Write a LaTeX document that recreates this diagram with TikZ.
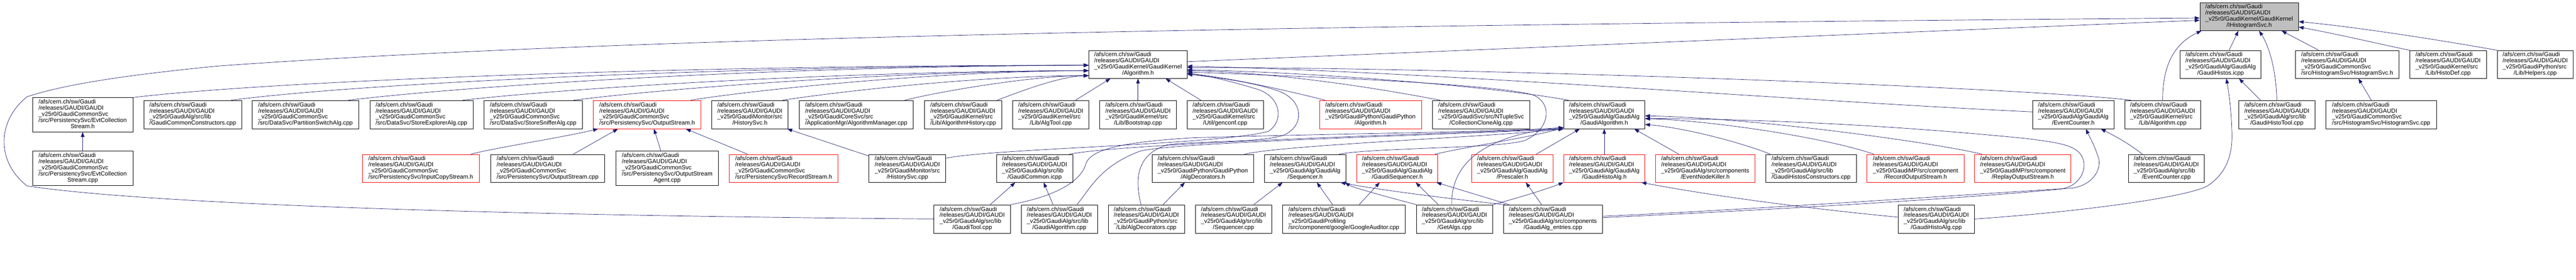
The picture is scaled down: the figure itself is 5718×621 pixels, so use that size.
\documentclass[tikz,border=0pt]{standalone}
\usepackage{fontspec}
\setmainfont{Liberation Sans}
\usetikzlibrary{arrows.meta}
\definecolor{eblue}{RGB}{25,25,112}
\definecolor{gfill}{RGB}{191,191,191}
\definecolor{rb}{RGB}{255,0,0}
\newcommand{\lbl}[2]{\begin{tabular}{@{}l@{}}/afs/cern.ch/sw/Gaudi\\/releases/GAUDI/GAUDI\\#1\\\multicolumn{1}{@{}c@{}}{#2}\end{tabular}}
\newcommand{\nd}[8]{\node[#6,minimum width={#3-#2},minimum height={#5-#4}] (#1) at ({(#2+#3)/2},{(#4+#5)/2}) {\lbl{#7}{#8}};}
\tikzset{
  nb/.style={draw=black,line width=0.8pt,inner sep=0pt,rectangle},
  nr/.style={draw=rb,line width=0.8pt,inner sep=0pt,rectangle},
  ntop/.style={draw=black,fill=gfill,line width=0.8pt,inner sep=0pt,rectangle},
  e/.style={draw=eblue,line width=0.8pt,-{Triangle[length=11pt,width=8pt]}}
}
\begin{document}
\begin{tikzpicture}[x=1pt,y=-1pt,font=\fontsize{13.2}{13.4}\selectfont]
\useasboundingbox (0,0) rectangle (5718,621);
% row A
\nd{top}{4883}{5102}{6}{68}{ntop}{\_v25r0/GaudiKernel/GaudiKernel}{/IHistogramSvc.h}
% row B
\nd{algh}{2417}{2635}{112}{174}{nb}{\_v25r0/GaudiKernel/GaudiKernel}{/Algorithm.h}
\nd{histosicpp}{4839}{5019}{112}{174}{nb}{\_v25r0/GaudiAlg/GaudiAlg}{/GaudiHistos.icpp}
\nd{histsvch}{5095}{5325}{112}{174}{nb}{\_v25r0/GaudiCommonSvc}{/src/HistogramSvc/HistogramSvc.h}
\nd{histodef}{5349}{5519}{112}{174}{nb}{\_v25r0/GaudiKernel/src}{/Lib/HistoDef.cpp}
\nd{helpers}{5543}{5712}{112}{174}{nb}{\_v25r0/GaudiPython/src}{/Lib/Helpers.cpp}
% row C
\nd{evth}{72}{295}{217}{293}{nb}{\_v25r0/GaudiCommonSvc\\/src/PersistencySvc/EvtCollection}{Stream.h}
\nd{gcc}{319}{537}{223}{286}{nb}{\_v25r0/GaudiAlg/src/lib}{/GaudiCommonConstructors.cpp}
\nd{psa}{560}{796}{223}{286}{nb}{\_v25r0/GaudiCommonSvc}{/src/DataSvc/PartitionSwitchAlg.cpp}
\nd{sea}{821}{1050}{223}{286}{nb}{\_v25r0/GaudiCommonSvc}{/src/DataSvc/StoreExplorerAlg.cpp}
\nd{ssa}{1074}{1293}{223}{286}{nb}{\_v25r0/GaudiCommonSvc}{/src/DataSvc/StoreSnifferAlg.cpp}
\nd{osh}{1317}{1556}{223}{286}{nr}{\_v25r0/GaudiCommonSvc}{/src/PersistencySvc/OutputStream.h}
\nd{hsh}{1580}{1749}{223}{286}{nb}{\_v25r0/GaudiMonitor/src}{/HistorySvc.h}
\nd{amc}{1774}{2027}{223}{286}{nb}{\_v25r0/GaudiCoreSvc/src}{/ApplicationMgr/AlgorithmManager.cpp}
\nd{ahc}{2052}{2224}{223}{286}{nb}{\_v25r0/GaudiKernel/src}{/Lib/AlgorithmHistory.cpp}
\nd{atc}{2248}{2417}{223}{286}{nb}{\_v25r0/GaudiKernel/src}{/Lib/AlgTool.cpp}
\nd{bsc}{2441}{2611}{223}{286}{nb}{\_v25r0/GaudiKernel/src}{/Lib/Bootstrap.cpp}
\nd{gcf}{2635}{2804}{223}{286}{nb}{\_v25r0/GaudiKernel/src}{/Util/genconf.cpp}
\nd{gpah}{2929}{3155}{223}{286}{nr}{\_v25r0/GaudiPython/GaudiPython}{/Algorithm.h}
\nd{cca}{3179}{3396}{223}{286}{nb}{\_v25r0/GaudiSvc/src/NTupleSvc}{/CollectionCloneAlg.cpp}
\nd{gah}{3471}{3651}{223}{286}{nb}{\_v25r0/GaudiAlg/GaudiAlg}{/GaudiAlgorithm.h}
\nd{ech}{4512}{4692}{223}{286}{nb}{\_v25r0/GaudiAlg/GaudiAlg}{/EventCounter.h}
\nd{algcpp}{4716}{4885}{223}{286}{nb}{\_v25r0/GaudiKernel/src}{/Lib/Algorithm.cpp}
\nd{ghtc}{4969}{5139}{223}{286}{nb}{\_v25r0/GaudiAlg/src/lib}{/GaudiHistoTool.cpp}
\nd{hsc}{5163}{5408}{223}{286}{nb}{\_v25r0/GaudiCommonSvc}{/src/HistogramSvc/HistogramSvc.cpp}
% row D
\nd{evtcpp}{72}{295}{336}{412}{nb}{\_v25r0/GaudiCommonSvc\\/src/PersistencySvc/EvtCollection}{Stream.cpp}
\nd{icsh}{804}{1064}{343}{405}{nr}{\_v25r0/GaudiCommonSvc}{/src/PersistencySvc/InputCopyStream.h}
\nd{oscpp}{1089}{1342}{343}{405}{nb}{\_v25r0/GaudiCommonSvc}{/src/PersistencySvc/OutputStream.cpp}
\nd{osac}{1367}{1595}{336}{412}{nb}{\_v25r0/GaudiCommonSvc\\/src/PersistencySvc/OutputStream}{Agent.cpp}
\nd{rsh}{1619}{1860}{343}{405}{nr}{\_v25r0/GaudiCommonSvc}{/src/PersistencySvc/RecordStream.h}
\nd{hsvcpp}{1929}{2099}{343}{405}{nb}{\_v25r0/GaudiMonitor/src}{/HistorySvc.cpp}
\nd{gcicpp}{2212}{2381}{343}{405}{nb}{\_v25r0/GaudiAlg/src/lib}{/GaudiCommon.icpp}
\nd{adh}{2557}{2783}{343}{405}{nb}{\_v25r0/GaudiPython/GaudiPython}{/AlgDecorators.h}
\nd{seqh}{2807}{2987}{343}{405}{nb}{\_v25r0/GaudiAlg/GaudiAlg}{/Sequencer.h}
\nd{gseqh}{3012}{3191}{343}{405}{nr}{\_v25r0/GaudiAlg/GaudiAlg}{/GaudiSequencer.h}
\nd{presh}{3267}{3447}{343}{405}{nr}{\_v25r0/GaudiAlg/GaudiAlg}{/Prescaler.h}
\nd{ghah}{3471}{3651}{343}{405}{nr}{\_v25r0/GaudiAlg/GaudiAlg}{/GaudiHistoAlg.h}
\nd{enkh}{3675}{3895}{343}{405}{nr}{\_v25r0/GaudiAlg/src/components}{/EventNodeKiller.h}
\nd{ghcc}{3919}{4121}{343}{405}{nb}{\_v25r0/GaudiAlg/src/lib}{/GaudiHistosConstructors.cpp}
\nd{rosh}{4144}{4360}{343}{405}{nr}{\_v25r0/GaudiMP/src/component}{/RecordOutputStream.h}
\nd{rplh}{4383}{4597}{343}{405}{nr}{\_v25r0/GaudiMP/src/component}{/ReplayOutputStream.h}
\nd{eccpp}{4724}{4893}{343}{405}{nb}{\_v25r0/GaudiAlg/src/lib}{/EventCounter.cpp}
% row E
\nd{gtc}{2073}{2243}{455}{518}{nb}{\_v25r0/GaudiAlg/src/lib}{/GaudiTool.cpp}
\nd{gacpp}{2267}{2436}{455}{518}{nb}{\_v25r0/GaudiAlg/src/lib}{/GaudiAlgorithm.cpp}
\nd{adc}{2460}{2629}{455}{518}{nb}{\_v25r0/GaudiPython/src}{/Lib/AlgDecorators.cpp}
\nd{seqc}{2653}{2823}{455}{518}{nb}{\_v25r0/GaudiAlg/src/lib}{/Sequencer.cpp}
\nd{goog}{2847}{3119}{455}{518}{nb}{\_v25r0/GaudiProfiling}{/src/component/google/GoogleAuditor.cpp}
\nd{getalgs}{3144}{3313}{455}{518}{nb}{\_v25r0/GaudiAlg/src/lib}{/GetAlgs.cpp}
\nd{entries}{3337}{3557}{455}{518}{nb}{\_v25r0/GaudiAlg/src/components}{/GaudiAlg\_entries.cpp}
\nd{ghacpp}{4213}{4383}{455}{518}{nb}{\_v25r0/GaudiAlg/src/lib}{/GaudiHistoAlg.cpp}
% ---- edges into IHistogramSvc.h
\draw[e] ([yshift=6pt]algh.east) -- ([yshift=-8pt]top.west);
\draw[e] (gtc.west) .. controls (1000,478) and (300,450) .. (60,413) .. controls (-8,360) and (-8,270) .. (60,215) .. controls (150,185) and (300,165) .. (480,147) .. controls (1400,80) and (3000,55) .. ([yshift=-3pt]top.west);
\draw[e] ([xshift=19pt]histosicpp.north) -- ([xshift=-24pt]top.south);
\draw[e] (algcpp.north) .. controls (4800,140) and (4830,95) .. ([xshift=4pt]top.south west);
\draw[e] (ghtc.north) .. controls (5052,150) and (5035,100) .. ([xshift=22pt]top.south);
\draw[e] ([xshift=-63pt]histsvch.north) -- ([xshift=72pt]top.south);
\draw[e] (histodef.north west) .. controls (5300,102) and (5200,78) .. ([yshift=-23pt]top.east);
\draw[e] (helpers.north west) .. controls (5450,95) and (5250,62) .. ([yshift=-11pt]top.east);
% ---- histogram side
\draw[e] ([xshift=-22pt]hsc.north) -- ([xshift=25pt]histsvch.south);
\draw[e] ([xshift=-36pt]ghtc.north) .. controls (5000,205) and (4985,190) .. ([xshift=41pt]histosicpp.south);
\draw[e] (ghacpp.east) .. controls (4600,472) and (4850,440) .. (4900,413) .. controls (4950,380) and (4956,330) .. (4954,290) .. controls (4952,230) and (4946,200) .. ([xshift=13pt]histosicpp.south);
% ---- into Algorithm.h from the left
\draw[e] (evth.north east) .. controls (600,180) and (1500,145) .. ([yshift=-2pt]algh.west);
\draw[e] ([xshift=-24pt]gcc.north east) .. controls (800,185) and (1600,147) .. ([yshift=-2pt]algh.west);
\draw[e] ([xshift=-23pt]psa.north east) .. controls (1050,190) and (1700,148) .. ([yshift=-2pt]algh.west);
\draw[e] ([xshift=-23pt]sea.north east) .. controls (1300,192) and (1900,158) .. ([yshift=-14pt]algh.west);
\draw[e] ([xshift=-20pt]ssa.north east) .. controls (1500,194) and (2000,158) .. ([yshift=-14pt]algh.west);
\draw[e] ([xshift=-23pt]osh.north east) .. controls (1700,196) and (2100,158) .. ([yshift=-14pt]algh.west);
\draw[e] ([xshift=-12pt]hsh.north east) .. controls (1900,198) and (2200,168) .. ([yshift=-25pt]algh.west);
\draw[e] ([xshift=-19pt]amc.north east) .. controls (2100,200) and (2300,168) .. ([yshift=-25pt]algh.west);
\draw[e] ([xshift=-11pt]ahc.north east) .. controls (2260,205) and (2350,170) .. ([yshift=-25pt]algh.west);
% ---- into Algorithm.h from below / right
\draw[e] ([xshift=-30pt]atc.north east) -- ([xshift=-61pt]algh.south);
\draw[e] (bsc.north) -- (algh.south);
\draw[e] ([xshift=-54pt]gcf.north) -- ([xshift=61pt]algh.south);
\draw[e] ([xshift=13pt]gpah.north west) .. controls (2900,212) and (2750,175) .. ([yshift=-20pt]algh.east);
\draw[e] ([xshift=18pt]cca.north west) .. controls (3000,185) and (2800,160) .. ([yshift=-14pt]algh.east);
\draw[e] ([xshift=11pt]gah.north west) .. controls (3300,190) and (2900,160) .. ([yshift=-12pt]algh.east);
\draw[e] ([xshift=14pt]algcpp.north west) .. controls (4500,195) and (3300,150) .. ([yshift=-7pt]algh.east);
\draw[e] ([yshift=6pt]ech.west) .. controls (4000,225) and (3200,160) .. ([yshift=-4pt]algh.east);
\draw[e] ([yshift=-9pt]hsvcpp.north east) .. controls (2200,330) and (2700,322) .. (2815,292) .. controls (2850,270) and (2845,215) .. (2790,198) .. controls (2730,180) and (2690,170) .. ([yshift=-20pt]algh.east);
\draw[e] ([xshift=-12pt]adc.north) .. controls (2520,400) and (2520,345) .. (2590,322) .. controls (2660,312) and (2800,318) .. (2850,300) .. controls (2895,280) and (2895,225) .. (2840,203) .. controls (2780,182) and (2700,172) .. ([yshift=-22pt]algh.east);
\draw[e] ([xshift=-15pt]seqh.north east) .. controls (3050,328) and (3330,330) .. (3385,312) .. controls (3445,285) and (3445,225) .. (3400,210) .. controls (3300,185) and (2900,170) .. ([yshift=-17pt]algh.east);
% ---- persistency
\draw[e] (evtcpp.north) -- (evth.south);
\draw[e] ([xshift=-19pt]icsh.north east) .. controls (1090,330) and (1250,305) .. ([xshift=11pt]osh.south west);
\draw[e] ([xshift=57pt]oscpp.north) -- ([xshift=55pt]osh.south west);
\draw[e] ([xshift=-14pt]osac.north) -- ([xshift=135pt]osh.south west);
\draw[e] ([xshift=-80pt]rsh.north) -- ([xshift=-34pt]osh.south east);
\draw[e] ([yshift=-4pt]hsvcpp.north west) -- ([xshift=-2pt]hsh.south east);
% ---- row E to row D
\draw[e] ([xshift=40pt]gtc.north) -- ([xshift=-43pt]gcicpp.south);
\draw[e] ([xshift=-14pt]gacpp.north) -- ([xshift=20pt]gcicpp.south);
\draw[e] ([xshift=37pt]adc.north) -- ([xshift=-40pt]adh.south);
\draw[e] ([xshift=45pt]seqc.north) -- ([xshift=-50pt]seqh.south);
\draw[e] ([xshift=-25pt]goog.north) -- ([xshift=26pt]seqh.south);
\draw[e] ([xshift=34pt]goog.north) -- ([xshift=-39pt]gseqh.south);
\draw[e] (getalgs.north west) .. controls (3050,430) and (3000,415) .. ([xshift=-2pt]seqh.south east);
\draw[e] ([xshift=-36pt]getalgs.north) -- ([xshift=41pt]gseqh.south);
\draw[e] ([xshift=4pt]entries.north west) .. controls (3200,440) and (3050,420) .. ([xshift=-12pt]seqh.south east);
\draw[e] ([xshift=13pt]entries.north west) -- ([xshift=-3pt]gseqh.south east);
\draw[e] ([xshift=-25pt]entries.north) -- ([xshift=30pt]presh.south);
\draw[e] (getalgs.north east) .. controls (3340,448) and (3420,425) .. (ghah.south west);
\draw[e] ([yshift=4pt]ghacpp.west) .. controls (4000,462) and (3800,435) .. ([xshift=-8pt]ghah.south east);
\draw[e] ([yshift=6pt]entries.east) .. controls (3900,465) and (4400,430) .. (4600,418) .. controls (4650,410) and (4668,370) .. (4656,345) .. controls (4648,320) and (4636,300) .. ([xshift=28pt]ech.south);
\draw[e] ([xshift=-53pt]eccpp.north) .. controls (4720,315) and (4690,300) .. ([xshift=61pt]ech.south);
% ---- into GaudiAlgorithm.h
\draw[e] ([yshift=3pt]entries.east) .. controls (3900,468) and (4350,442) .. (4575,420) .. controls (4625,412) and (4640,360) .. (4612,336) .. controls (4592,320) and (4560,316) .. (4500,308) .. controls (4200,278) and (3900,264) .. ([yshift=-9pt]gah.east);
\draw[e] ([xshift=11pt]ghcc.north west) .. controls (3880,322) and (3750,285) .. ([yshift=-22pt]gah.east);
\draw[e] ([xshift=16pt]rosh.north west) .. controls (4050,305) and (3800,268) .. ([yshift=-9pt]gah.east);
\draw[e] ([xshift=17pt]rplh.north west) .. controls (4300,318) and (3900,262) .. ([yshift=-3pt]gah.east);
\draw[e] (ghah.north) -- (gah.south);
\draw[e] ([xshift=52pt]enkh.north west) -- ([xshift=-24pt]gah.south east);
\draw[e] ([xshift=53pt]presh.north) -- ([xshift=36pt]gah.south west);
\draw[e] ([xshift=-6pt]gseqh.north east) .. controls (3260,325) and (3400,305) .. ([yshift=3pt]gah.south west);
\draw[e] ([xshift=-6pt]getalgs.north) .. controls (3220,360) and (3300,300) .. ([yshift=3pt]gah.south west);
\draw[e] ([xshift=-21pt]adh.north east) .. controls (2850,322) and (3300,305) .. (gah.south west);
\draw[e] ([xshift=-8pt]gcicpp.north east) .. controls (2500,318) and (3200,296) .. (gah.south west);
\draw[e] (gtc.north east) .. controls (2350,435) and (2400,400) .. (2410,365) .. controls (2420,330) and (2500,315) .. (2650,306) .. controls (3000,296) and (3300,294) .. ([yshift=3pt]gah.south west);
\draw[e] ([xshift=-46pt]gacpp.north east) .. controls (2420,420) and (2440,370) .. (2530,336) .. controls (2600,316) and (3200,300) .. (gah.south west);
\end{tikzpicture}
\end{document}
